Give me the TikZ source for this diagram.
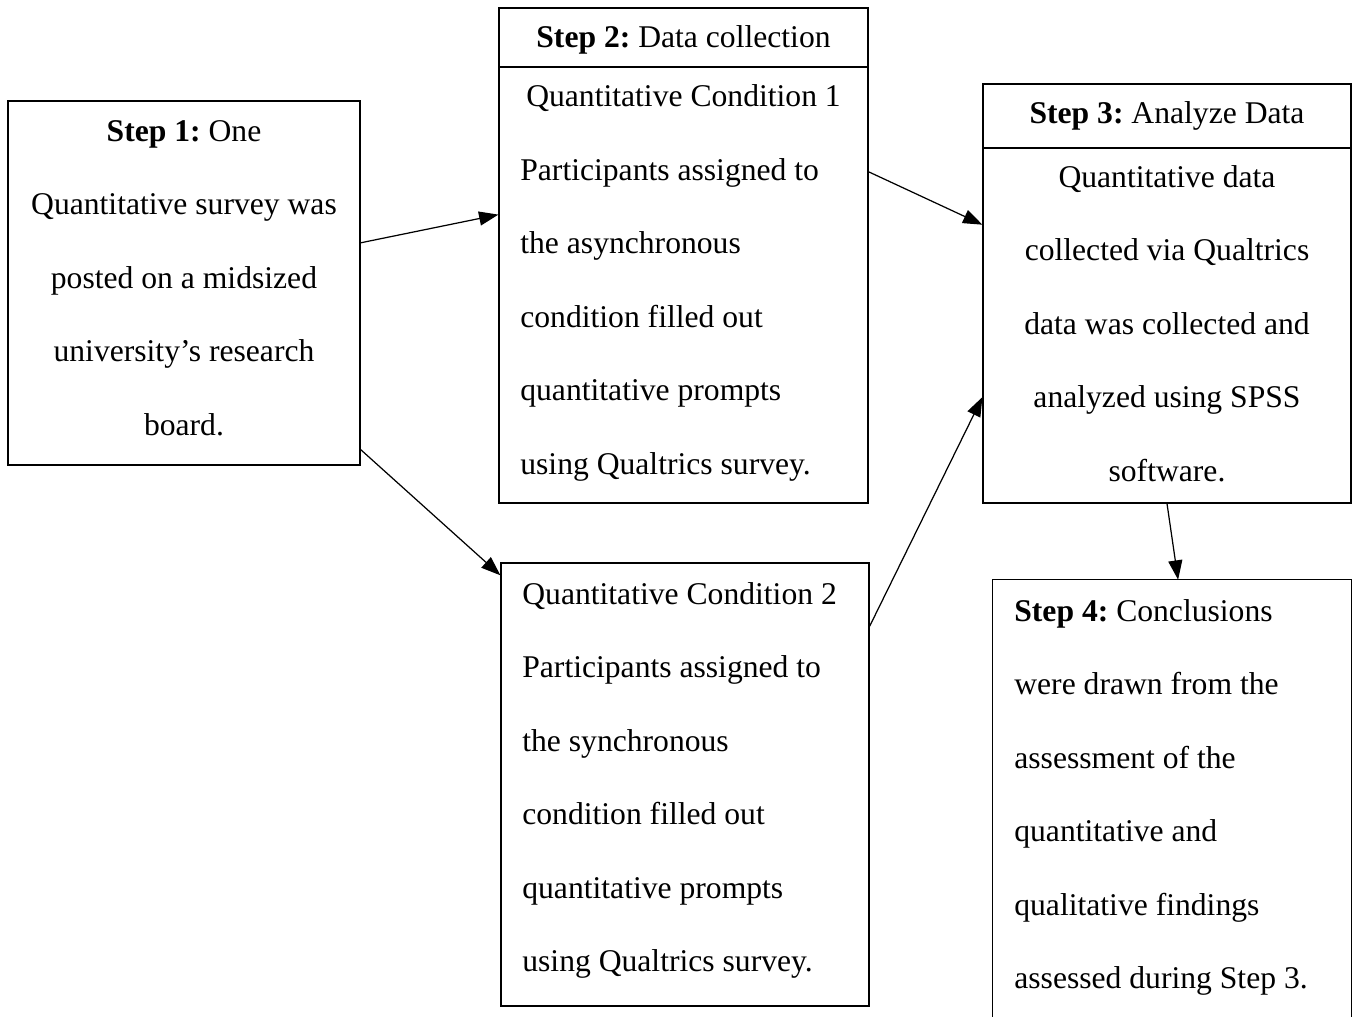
\documentclass[tikz,border=0pt]{standalone}
\usepackage{fontspec}
\setmainfont{Liberation Serif}
\usetikzlibrary{arrows.meta,calc}
\frenchspacing

\begin{document}
\begin{tikzpicture}[x=0.02cm, y=-0.02cm,
    box/.style={draw, line width=0.7pt, inner sep=0pt},
    txt/.style={inner sep=0pt, font=\fontsize{18}{41.8}\selectfont},
    link/.style={line width=0.7pt, -{Triangle[length=11pt, width=8pt]}}]

    \useasboundingbox (0,0) rectangle (1353,1017);

    % === Step 1 ===
    \node[box, minimum width=7.04cm, minimum height=7.28cm] (s1) at (184,283) {};
    \node[txt, align=center, anchor=north] (t1) at (184,89.6)
        {\strut\textbf{Step 1:} One\\Quantitative survey was\\posted on a midsized\\university’s research\\board.};

    % === Step 2 ===
    \node[box, minimum width=7.38cm, minimum height=1.18cm] (h2) at (683.5,37.5) {};
    \node[txt, anchor=base] (th2) at (683.5,47.5) {\textbf{Step 2:} Data collection};

    % Condizione 1
    \node[box, minimum width=7.38cm, minimum height=8.72cm] (c1) at (683.5,285) {};
    \node[txt, anchor=base] (tc1) at (683.5,107) {Quantitative Condition 1};
    \node[txt, align=left, anchor=north west] (bc1) at (520,128.6)
        {\strut Participants assigned to\\the asynchronous\\condition filled out\\quantitative prompts\\using Qualtrics survey.};

    % Condizione 2
    \node[box, minimum width=7.36cm, minimum height=8.86cm] (c2) at (685,784.5) {};
    \node[txt, align=left, anchor=north west] (bc2) at (522,552.6)
        {\strut Quantitative Condition 2\\Participants assigned to\\the synchronous\\condition filled out\\quantitative prompts\\using Qualtrics survey.};

    % === Step 3 ===
    \node[box, minimum width=7.36cm, minimum height=1.28cm] (h3) at (1167,116) {};
    \node[txt, anchor=base] (th3) at (1167,124) {\textbf{Step 3:} Analyze Data};
    \node[box, minimum width=7.36cm, minimum height=7.10cm] (a3) at (1167,325.5) {};
    \node[txt, align=center, anchor=north] (ta3) at (1167,135.6)
        {\strut Quantitative data\\collected via Qualtrics\\data was collected and\\analyzed using SPSS\\software.};

    % === Step 4 (bordo inferiore fuori pagina) ===
    \node[inner sep=0pt, minimum width=7.16cm, minimum height=8.74cm] (s4) at (1172,798.5) {};
    \draw[line width=0.7pt] (s4.south west) -- (s4.north west) -- (s4.north east) -- (s4.south east);
    \node[txt, align=left, anchor=north west] (ts4) at (1014,569.6)
        {\strut\textbf{Step 4:} Conclusions\\were drawn from the\\assessment of the\\quantitative and\\qualitative findings\\assessed during Step 3.};

    % Frecce
    \draw[link] ($(s1.north east)!0.39!(s1.south east)$) -- ($(c1.north west)!0.339!(c1.south west)$);
    \draw[link] ($(s1.north east)!0.956!(s1.south east)$) -- ($(c2.north west)!0.029!(c2.south west)$);
    \draw[link] ($(c1.north east)!0.241!(c1.south east)$) -- ($(a3.north west)!0.217!(a3.south west)$);
    \draw[link] ($(c2.north east)!0.144!(c2.south east)$) -- ($(a3.north west)!0.701!(a3.south west)$);
    \draw[link] ($(a3.south west)!0.5!(a3.south east)$) -- ($(s4.north west)!0.517!(s4.north east)$);

\end{tikzpicture}
\end{document}
